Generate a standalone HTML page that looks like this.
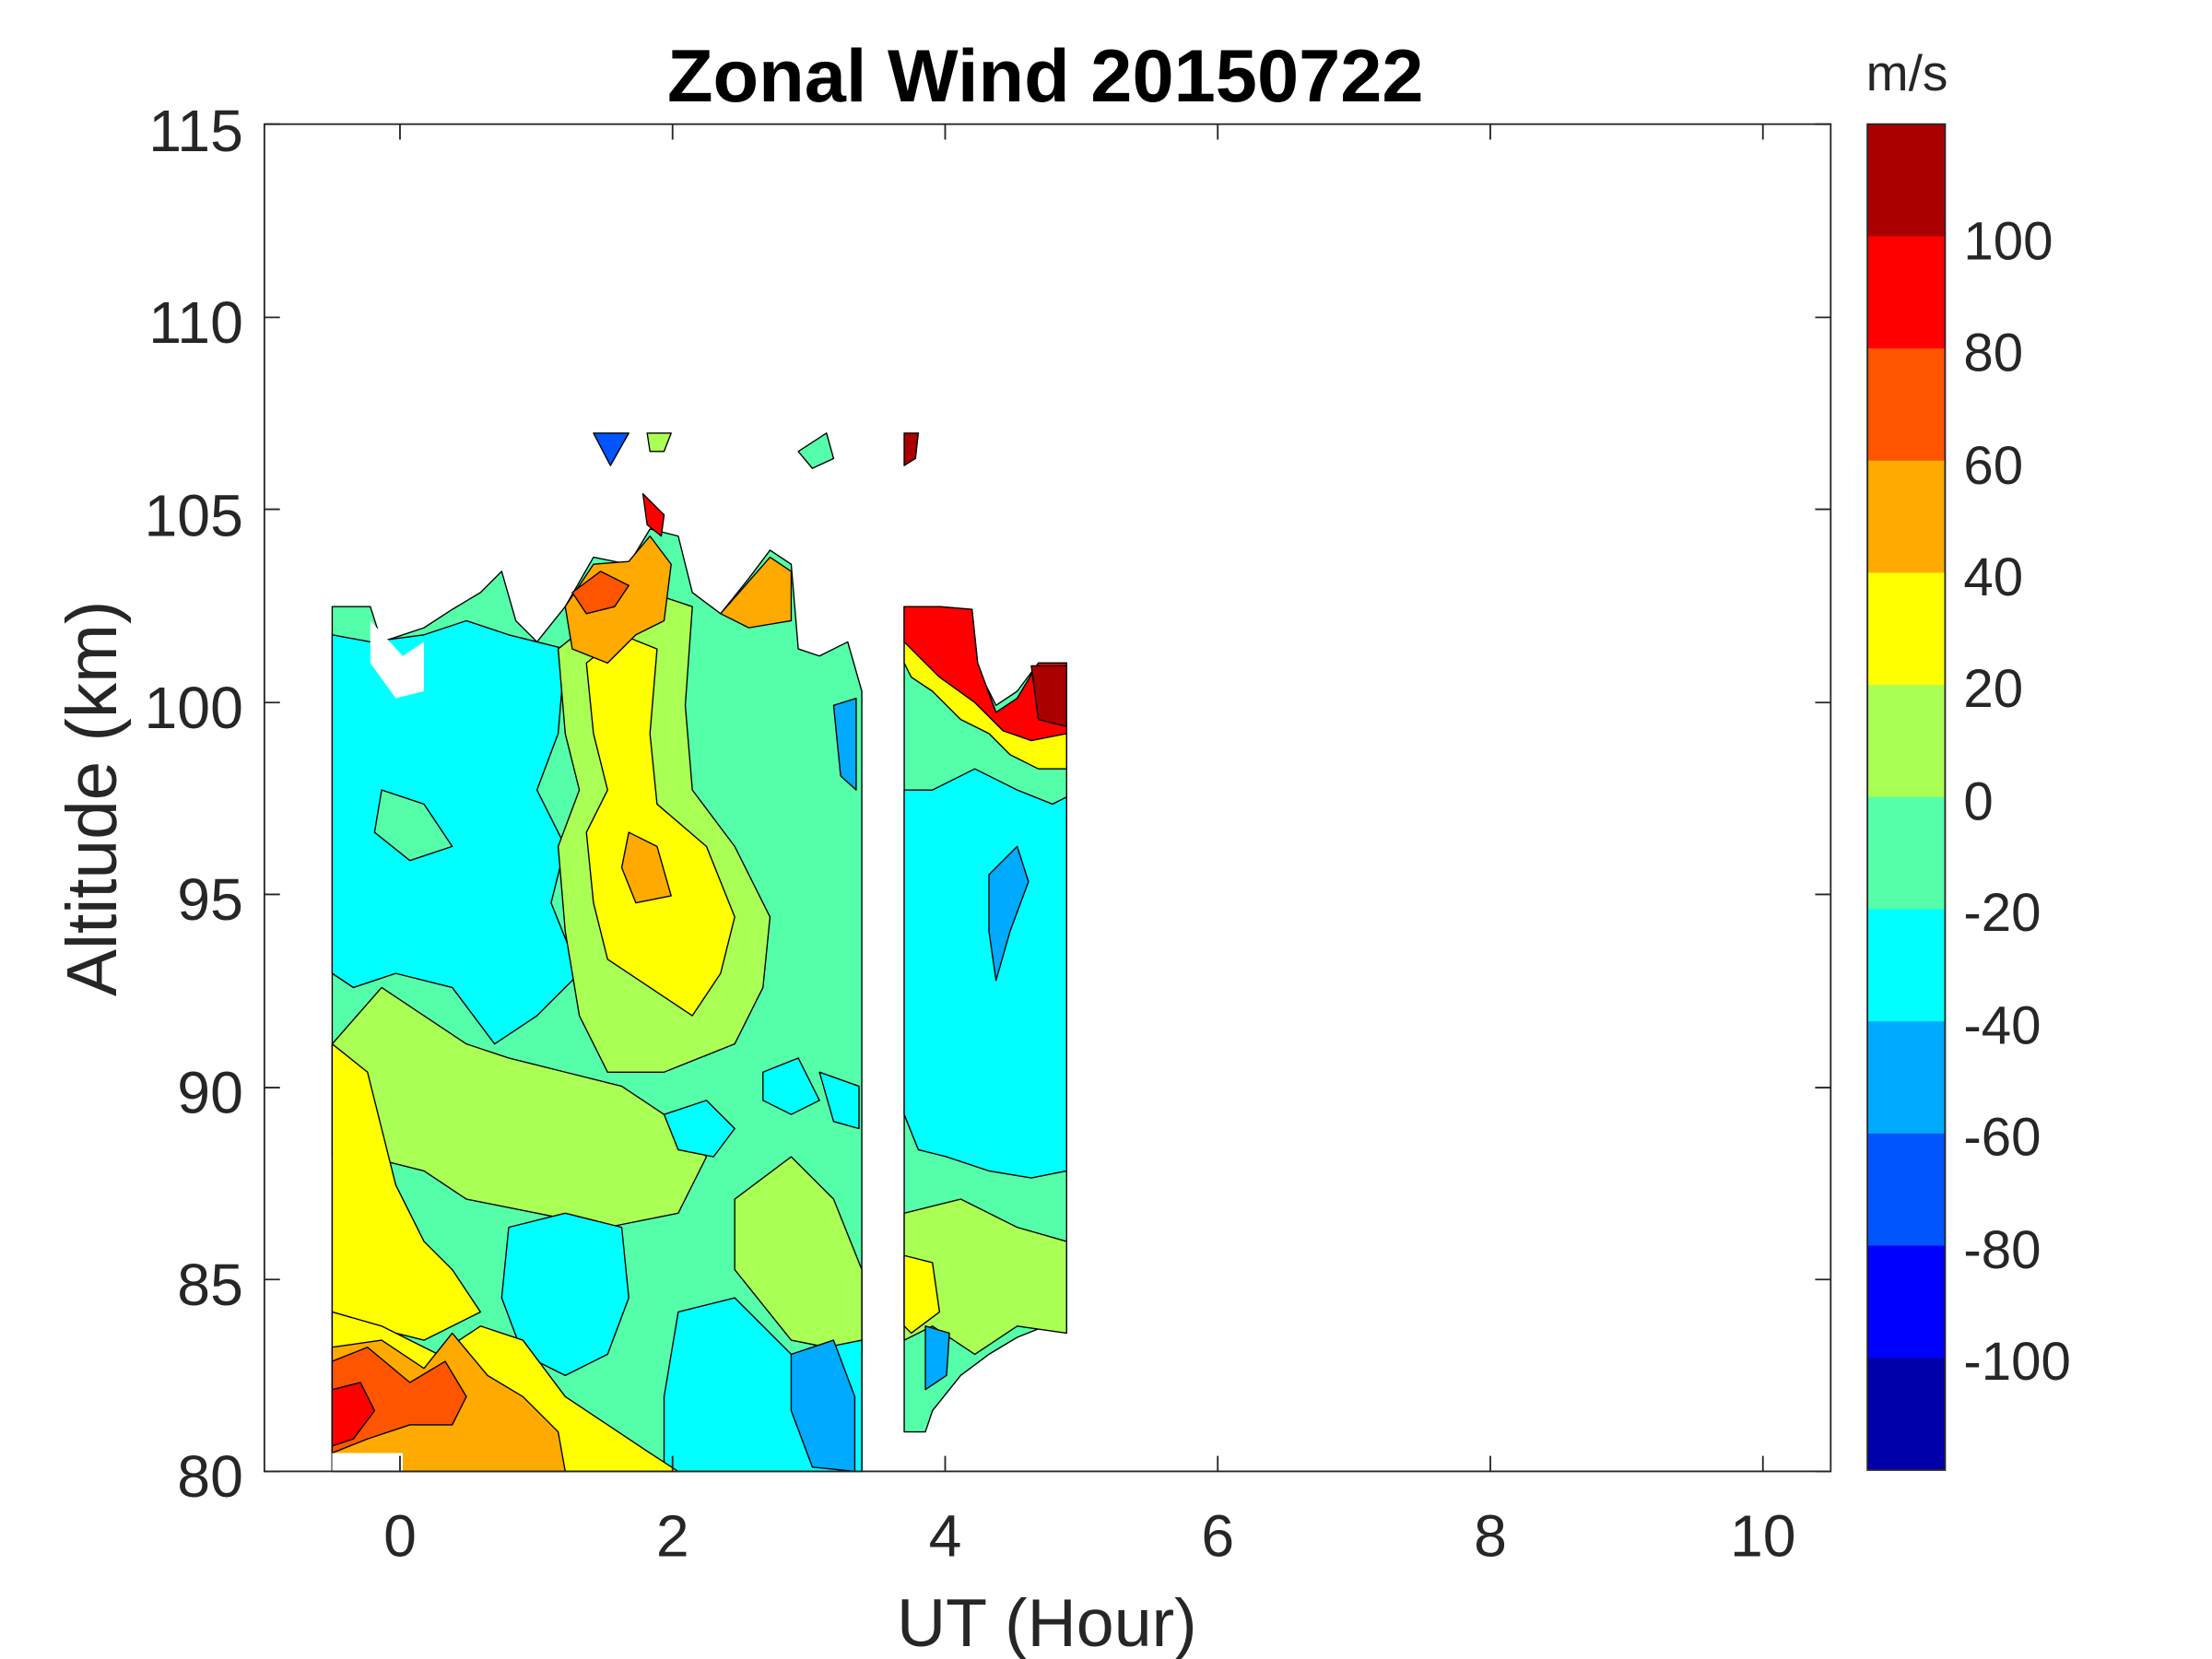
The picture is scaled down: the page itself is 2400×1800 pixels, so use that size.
<!DOCTYPE html>
<html><head><meta charset="utf-8"><style>
html,body{margin:0;padding:0;background:#fff;}
svg{display:block;}
text{font-family:"Liberation Sans",Arial,sans-serif;fill:#262626;}
</style></head><body>
<svg width="2400" height="1800" viewBox="0 0 1548 1176" preserveAspectRatio="none" xmlns="http://www.w3.org/2000/svg">
<rect width="1548" height="1176" fill="#fff"/>
<g transform="matrix(0.9884 0 0 1 0.2 0)">
<g stroke="#000" stroke-width="0.9" stroke-linejoin="round">
<path d="M235,430 L262,430 L270,455 L300,445 L320,432 L340,420 L355,405 L365,440 L380,455 L400,430 L420,395 L445,400 L460,375 L480,380 L490,420 L510,435 L530,410 L545,390 L560,400 L565,460 L580,465 L600,455 L610,490 L610,1043 L235,1043 Z" fill="#55FFAA"/>
<path d="M235,450 L262,455 L300,450 L330,440 L360,450 L380,455 L400,460 L395,520 L380,560 L400,600 L390,640 L410,690 L380,720 L350,740 L320,700 L280,690 L250,700 L235,690 Z" fill="#00FFFF"/>
<path d="M270,560 L300,570 L320,600 L290,610 L265,590 Z" fill="#55FFAA"/>
<path d="M395,460 L420,440 L460,420 L490,430 L485,500 L490,560 L520,600 L545,650 L540,700 L520,740 L470,760 L430,760 L410,720 L400,660 L395,600 L410,560 L400,520 Z" fill="#AAFF55"/>
<path d="M415,470 L440,450 L465,460 L460,520 L465,570 L500,600 L520,650 L510,690 L490,720 L460,700 L430,680 L420,640 L415,590 L430,560 L420,520 Z" fill="#FFFF00"/>
<path d="M445,590 L465,600 L475,635 L450,640 L440,615 Z" fill="#FFAA00"/>
<path d="M400,430 L420,400 L445,398 L460,380 L475,400 L470,440 L450,450 L430,470 L405,460 Z" fill="#FFAA00"/>
<path d="M405,420 L425,405 L445,415 L435,430 L415,435 Z" fill="#FF5500"/>
<path d="M510,435 L545,395 L560,405 L560,440 L530,445 Z" fill="#FFAA00"/>
<path d="M590,500 L606,495 L606,560 L595,550 Z" fill="#00AAFF"/>
<path d="M262,440 L285,465 L300,455 L300,490 L280,495 L262,470 Z" fill="#FFFFFF" stroke="none"/>
<path d="M235,740 L270,700 L300,720 L330,740 L360,750 L400,760 L440,770 L470,790 L500,820 L480,860 L430,870 L380,860 L330,850 L300,830 L260,820 L235,820 Z" fill="#AAFF55"/>
<path d="M235,740 L260,760 L270,800 L280,840 L300,880 L320,900 L340,930 L300,950 L260,940 L235,940 Z" fill="#FFFF00"/>
<path d="M540,760 L565,750 L580,780 L560,790 L540,780 Z" fill="#00FFFF"/>
<path d="M470,790 L500,780 L520,800 L505,820 L480,815 Z" fill="#00FFFF"/>
<path d="M580,760 L608,770 L608,800 L590,795 Z" fill="#00FFFF"/>
<path d="M360,870 L400,860 L440,870 L445,920 L430,960 L400,975 L370,960 L355,920 Z" fill="#00FFFF"/>
<path d="M520,850 L560,820 L590,850 L610,900 L610,960 L560,950 L520,900 Z" fill="#AAFF55"/>
<path d="M480,930 L520,920 L560,960 L610,950 L610,1043 L470,1043 L470,990 Z" fill="#00FFFF"/>
<path d="M560,960 L590,950 L605,990 L605,1043 L575,1040 L560,1000 Z" fill="#00AAFF"/>
<path d="M235,930 L270,940 L310,960 L340,940 L370,950 L400,990 L430,1010 L460,1030 L480,1043 L235,1043 Z" fill="#FFFF00"/>
<path d="M235,955 L270,950 L300,970 L320,945 L345,975 L370,990 L395,1015 L400,1043 L235,1043 Z" fill="#FFAA00"/>
<path d="M235,965 L260,955 L290,980 L315,965 L330,990 L320,1010 L290,1010 L260,1020 L235,1030 Z" fill="#FF5500"/>
<path d="M235,985 L255,980 L265,1000 L250,1020 L235,1025 Z" fill="#FF0000"/>
<path d="M420,307 L445,307 L432,330 Z" fill="#0055FF"/>
<path d="M458,307 L475,307 L470,320 L460,320 Z" fill="#AAFF55"/>
<path d="M455,350 L470,365 L468,380 L458,372 Z" fill="#FF0000"/>
<path d="M565,320 L585,307 L590,325 L575,332 Z" fill="#55FFAA"/>
<path d="M640,307 L650,307 L648,325 L640,330 Z" fill="#AA0000"/>
</g>
<rect x="235" y="1030" width="50" height="13" fill="#fff"/>
<g stroke="#000" stroke-width="0.9" stroke-linejoin="round">
<path d="M640,430 L665,430 L675,440 L688,432 L690,470 L705,500 L720,490 L735,470 L755,470 L755,945 L740,940 L720,948 L700,960 L680,975 L660,1000 L655,1015 L640,1015 Z" fill="#55FFAA"/>
<path d="M640,560 L660,560 L690,545 L720,560 L745,570 L755,565 L755,830 L730,835 L700,830 L670,820 L650,815 L640,790 Z" fill="#00FFFF"/>
<path d="M700,620 L720,600 L728,625 L715,660 L705,695 L700,660 Z" fill="#00AAFF"/>
<path d="M640,860 L680,850 L720,870 L755,880 L755,945 L720,940 L690,960 L660,940 L640,950 Z" fill="#AAFF55"/>
<path d="M640,890 L660,895 L665,930 L645,945 L640,940 Z" fill="#FFFF00"/>
<path d="M640,430 L665,430 L688,432 L692,470 L705,505 L720,495 L735,470 L755,470 L755,545 L735,545 L715,535 L700,520 L680,510 L660,490 L645,480 L640,470 Z" fill="#FFFF00"/>
<path d="M640,430 L665,430 L688,432 L692,470 L705,505 L720,495 L735,470 L755,470 L755,520 L730,525 L710,518 L690,498 L665,480 L645,460 L640,455 Z" fill="#FF0000"/>
<path d="M730,472 L755,472 L755,515 L735,510 Z" fill="#AA0000"/>
<path d="M655,940 L672,945 L670,975 L655,985 Z" fill="#00AAFF"/>
</g>
<rect x="187" y="88" width="1109" height="955" fill="none" stroke="#262626" stroke-width="1.2"/>
<g stroke="#262626" stroke-width="1.2">
<path d="M283,1043v-11M476,1043v-11M669,1043v-11M862,1043v-11M1055,1043v-11M1248,1043v-11"/>
<path d="M283,88v11M476,88v11M669,88v11M862,88v11M1055,88v11M1248,88v11"/>
<path d="M187,88h11M187,225h11M187,361h11M187,498h11M187,634h11M187,771h11M187,907h11M187,1043h11"/>
<path d="M1296,88h-11M1296,225h-11M1296,361h-11M1296,498h-11M1296,634h-11M1296,771h-11M1296,907h-11M1296,1043h-11"/>
</g>
<g font-size="42" text-anchor="end">
<text x="172" y="107">115</text><text x="172" y="243">110</text><text x="172" y="380">105</text>
<text x="172" y="516">100</text><text x="172" y="652">95</text><text x="172" y="789">90</text>
<text x="172" y="925">85</text><text x="172" y="1061">80</text>
</g>
<g font-size="42" text-anchor="middle">
<text x="283" y="1103">0</text><text x="476" y="1103">2</text><text x="669" y="1103">4</text>
<text x="862" y="1103">6</text><text x="1055" y="1103">8</text><text x="1248" y="1103">10</text>
</g>
<text x="741" y="1167" font-size="48" text-anchor="middle">UT (Hour)</text>
<text transform="translate(82,566) rotate(-90)" font-size="50" text-anchor="middle">Altitude (km)</text>
<text x="740" y="72" font-size="53" font-weight="bold" text-anchor="middle" style="fill:#000">Zonal Wind 20150722</text>
<g>
<rect x="1322" y="88" width="55" height="80" fill="#AA0000"/>
<rect x="1322" y="167.5" width="55" height="80" fill="#FF0000"/>
<rect x="1322" y="247" width="55" height="80" fill="#FF5500"/>
<rect x="1322" y="326.5" width="55" height="80" fill="#FFAA00"/>
<rect x="1322" y="406" width="55" height="80" fill="#FFFF00"/>
<rect x="1322" y="485.5" width="55" height="80" fill="#AAFF55"/>
<rect x="1322" y="565" width="55" height="80" fill="#55FFAA"/>
<rect x="1322" y="644.5" width="55" height="80" fill="#00FFFF"/>
<rect x="1322" y="724" width="55" height="80" fill="#00AAFF"/>
<rect x="1322" y="803.5" width="55" height="80" fill="#0055FF"/>
<rect x="1322" y="883" width="55" height="80" fill="#0000FF"/>
<rect x="1322" y="962.5" width="55" height="80" fill="#0000AA"/>
<rect x="1322" y="88" width="55" height="954" fill="none" stroke="#262626" stroke-width="1.2"/>
</g>
<g font-size="38">
<text x="1390" y="184">100</text><text x="1390" y="263">80</text><text x="1390" y="343">60</text>
<text x="1390" y="422">40</text><text x="1390" y="501">20</text><text x="1390" y="581">0</text>
<text x="1390" y="660">-20</text><text x="1390" y="740">-40</text><text x="1390" y="819">-60</text>
<text x="1390" y="899">-80</text><text x="1390" y="978">-100</text>
</g>
<text x="1350" y="64" font-size="36" text-anchor="middle">m/s</text>
</g>
</svg>
</body></html>
